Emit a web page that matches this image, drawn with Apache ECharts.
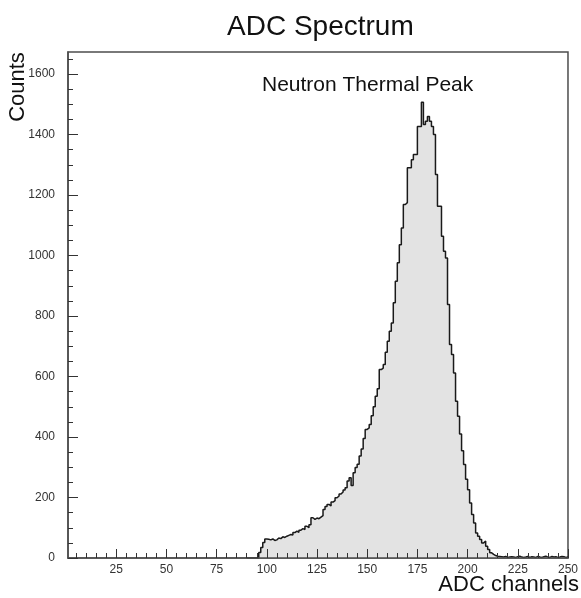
<!DOCTYPE html>
<html>
<head>
<meta charset="utf-8">
<script src="https://cdn.jsdelivr.net/npm/echarts@6/dist/echarts.min.js"></script>
<style>
  html, body { margin: 0; padding: 0; background: #fff; }
  #spectrum { width: 581px; height: 598px; }
</style>
</head>
<body>
<div id="spectrum"></div>
<script>
// histogram: one bin per ADC channel, first bin starts at channel 90
var firstChannel = 90;
var counts = [
  0, 0, 0, 0, 0, 0,
  18, 35, 51, 63, 62, 60, 63, 58, 60, 66,
  64, 70, 68, 72, 75, 78, 76, 84, 89, 85,
  92, 97, 94, 105, 100, 110, 133, 128, 132, 130,
  135, 140, 160, 170, 177, 172, 185, 190, 199, 205,
  212, 218, 225, 232, 255, 265, 240, 282, 299, 310,
  337, 360, 395, 425, 430, 441, 470, 500, 535, 560,
  623, 628, 640, 680, 717, 750, 777, 844, 915, 976,
  1036, 1091, 1169, 1175, 1290, 1290, 1317, 1334, 1334, 1427,
  1427, 1507, 1433, 1444, 1460, 1444, 1427, 1400, 1268, 1163,
  1163, 1064, 1014, 992, 838, 706, 673, 612, 518, 469,
  410, 355, 309, 260, 226, 182, 144, 116, 83, 72,
  61, 50, 56, 39, 28, 17, 12, 8,
  6, 5, 4, 3, 5, 2, 3, 4, 3, 2, 4, 6,
  3, 2, 3, 5, 2, 4, 3, 2, 5, 3, 2, 4,
  6, 3, 2, 5, 3, 4, 2, 3, 5, 4, 2, 3
];

var xMajorTicks = [25, 50, 75, 100, 125, 150, 175, 200, 225, 250];
var xMinorTicks = [5, 10, 15, 20, 30, 35, 40, 45, 55, 60, 65, 70, 80, 85, 90, 95,
  105, 110, 115, 120, 130, 135, 140, 145, 155, 160, 165, 170, 180, 185, 190, 195,
  205, 210, 215, 220, 230, 235, 240, 245];
var yMajorTicks = [0, 200, 400, 600, 800, 1000, 1200, 1400, 1600];
var yMinorTicks = [50, 100, 150, 250, 300, 350, 450, 500, 550, 650, 700, 750,
  850, 900, 950, 1050, 1100, 1150, 1250, 1300, 1350, 1450, 1500, 1550, 1650];

var xMin = 1, xMax = 250;
var yMin = 0, yMax = 1673;

var font = '"Liberation Sans", Arial, Helvetica, sans-serif';
var frameColor = '#4d4d4d';

// step outline points: left edge of every bin, plus closing right edge
var stepData = [];
for (var i = 0; i < counts.length; i++) {
  stepData.push([firstChannel + i, counts[i]]);
}
stepData.push([firstChannel + counts.length, counts[counts.length - 1]]);

var plainNumber = function (v) { return String(v); };

var chart = echarts.init(document.getElementById('spectrum'), null, { renderer: 'canvas' });

var option = {
  animation: false,
  backgroundColor: '#fff',
  title: {
    text: 'ADC Spectrum',
    left: 222,
    top: 8,
    textStyle: { fontFamily: font, fontSize: 28, fontWeight: 'normal', color: '#111' }
  },
  grid: {
    left: 68, top: 52, right: 6, bottom: 40,
    show: true,
    borderColor: frameColor,
    borderWidth: 1.5,
    backgroundColor: '#fff'
  },
  xAxis: [
    {
      type: 'value', min: xMin, max: xMax, z: 5,
      axisLine: { show: true, onZero: false, lineStyle: { color: frameColor, width: 1.5 } },
      axisTick: { show: true, inside: true, length: 9, customValues: xMajorTicks,
        lineStyle: { color: '#333', width: 1 } },
      axisLabel: { customValues: xMajorTicks, formatter: plainNumber, margin: 6,
        color: '#333', fontSize: 12, fontFamily: font },
      splitLine: { show: false }
    },
    {
      type: 'value', min: xMin, max: xMax, position: 'bottom', z: 5,
      axisLine: { show: false },
      axisTick: { show: true, inside: true, length: 5, customValues: xMinorTicks,
        lineStyle: { color: '#333', width: 1 } },
      axisLabel: { show: false },
      splitLine: { show: false }
    }
  ],
  yAxis: [
    {
      type: 'value', min: yMin, max: yMax, z: 5,
      axisLine: { show: true, onZero: false, lineStyle: { color: frameColor, width: 1.5 } },
      axisTick: { show: true, inside: true, length: 10, customValues: yMajorTicks,
        lineStyle: { color: '#333', width: 1 } },
      axisLabel: { customValues: yMajorTicks, formatter: plainNumber, margin: 13,
        color: '#333', fontSize: 12, fontFamily: font },
      splitLine: { show: false }
    },
    {
      type: 'value', min: yMin, max: yMax, position: 'left', z: 5,
      axisLine: { show: false },
      axisTick: { show: true, inside: true, length: 5, customValues: yMinorTicks,
        lineStyle: { color: '#333', width: 1 } },
      axisLabel: { show: false },
      splitLine: { show: false }
    }
  ],
  series: [
    {
      type: 'line',
      xAxisIndex: 0,
      yAxisIndex: 0,
      step: 'end',
      showSymbol: false,
      z: 1,
      lineStyle: { color: '#1a1a1a', width: 1.5 },
      areaStyle: { color: '#e3e3e3', opacity: 1 },
      data: stepData
    }
  ],
  graphic: [
    {
      type: 'text', x: 262, y: 85,
      style: { text: 'Neutron Thermal Peak', font: '21px ' + font, fill: '#111', verticalAlign: 'middle' }
    },
    {
      type: 'text', x: 18, y: 87, rotation: Math.PI / 2,
      style: { text: 'Counts', font: '22px ' + font, fill: '#111', align: 'center', verticalAlign: 'middle' }
    },
    {
      type: 'text', x: 579, y: 585,
      style: { text: 'ADC channels', font: '22px ' + font, fill: '#111', align: 'right', verticalAlign: 'middle' }
    }
  ]
};

chart.setOption(option);
</script>
</body>
</html>
